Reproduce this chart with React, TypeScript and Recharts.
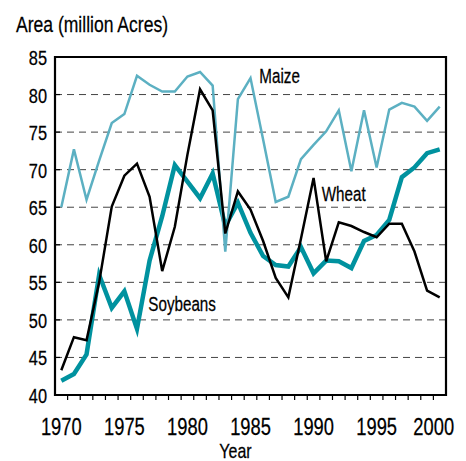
import React from 'react';
import { LineChart, Line, XAxis, YAxis, CartesianGrid, ReferenceArea, ReferenceDot } from 'recharts';

const years = [1970, 1971, 1972, 1973, 1974, 1975, 1976, 1977, 1978, 1979, 1980, 1981, 1982, 1983, 1984, 1985, 1986, 1987, 1988, 1989, 1990, 1991, 1992, 1993, 1994, 1995, 1996, 1997, 1998, 1999, 2000];
const maize = [65.0, 72.7, 66.0, 71.2, 76.2, 77.4, 82.5, 81.3, 80.4, 80.4, 82.4, 83.0, 81.2, 59.1, 79.4, 82.2, 74.0, 65.7, 66.4, 71.4, 73.3, 75.1, 77.9, 69.8, 77.9, 70.3, 78.0, 78.9, 78.4, 76.5, 78.4];
const wheat = [43.3, 47.7, 47.3, 55.0, 65.1, 69.2, 70.8, 66.4, 56.5, 62.4, 72.0, 80.7, 77.9, 61.5, 67.1, 64.7, 60.5, 55.6, 53.0, 60.8, 68.9, 57.8, 63.0, 62.5, 61.7, 61.0, 62.8, 62.8, 59.1, 53.9, 53.0];
const soybeans = [41.9, 42.8, 45.4, 56.0, 51.6, 53.8, 48.8, 57.9, 63.8, 70.6, 68.4, 66.2, 69.5, 62.5, 65.6, 61.6, 58.5, 57.3, 57.1, 59.7, 56.2, 57.9, 57.8, 56.9, 60.5, 61.3, 63.3, 69.0, 70.3, 72.2, 72.7];
const yearLabels = [1970, 1975, 1980, 1985, 1990, 1995, 2000];
const yTicks = [40, 45, 50, 55, 60, 65, 70, 75, 80, 85];
const seriesLabels = [
  { name: 'Maize', year: 1985.7, value: 81.5 },
  { name: 'Wheat', year: 1990.65, value: 65.8 },
  { name: 'Soybeans', year: 1976.9, value: 51.2 },
];

const data = years.map((year, i) => ({ year, maize: maize[i], wheat: wheat[i], soybeans: soybeans[i] }));
const minorTicks = years.slice(1).map((y) => y - 0.5);
const xTicks = [...yearLabels, ...minorTicks].sort((a, b) => a - b);

const FONT = "'Liberation Sans', Arial, sans-serif";
const SQUEEZE = 0.78;

function NarrowText({ x, y, size, anchor = 'start', children }: any) {
  return (
    <text
      transform={`translate(${x},${y}) scale(${SQUEEZE},1)`}
      x={0}
      y={0}
      textAnchor={anchor}
      fontFamily={FONT}
      fontSize={size}
      fill="#000"
      stroke="#000"
      strokeWidth={0.25}
    >
      {children}
    </text>
  );
}

function XTick(props: any) {
  const { x, y, payload } = props;
  const v = payload.value;
  if (Number.isInteger(v)) {
    return (
      <NarrowText x={v === 2000 ? x - 6 : x} y={y + 40} size={23.5} anchor="middle">
        {v}
      </NarrowText>
    );
  }
  return <line x1={x} y1={y} x2={x} y2={y + 5} stroke="#000" strokeWidth={1.2} />;
}

function YTick(props: any) {
  const { x, y, payload } = props;
  return (
    <g>
      <line x1={x} y1={y} x2={x + 5} y2={y} stroke="#000" strokeWidth={1.2} />
      <NarrowText x={x - 8} y={y + 8} size={21} anchor="end">
        {payload.value}
      </NarrowText>
    </g>
  );
}

function YearLabel(props: any) {
  const vb = props.viewBox || {};
  return (
    <NarrowText x={vb.x + vb.width / 2 - 15} y={vb.y + vb.height - 3} size={20.5} anchor="middle">
      Year
    </NarrowText>
  );
}

export default function App() {
  return (
    <div style={{ position: 'absolute', left: 0, top: 0, width: 466, height: 461, background: '#fff' }}>
      <LineChart width={466} height={461} data={data} margin={{ top: 57, right: 20, bottom: 0, left: 0 }}>
        <CartesianGrid vertical={false} stroke="#444" strokeDasharray="7 5" />
        <XAxis
          dataKey="year"
          type="number"
          domain={[1969.5, 2000.5]}
          ticks={xTicks}
          interval={0}
          allowDataOverflow
          height={66}
          tickSize={0}
          tickMargin={0}
          tickLine={false}
          axisLine={{ stroke: '#000', strokeWidth: 2 }}
          tick={<XTick />}
          label={{ content: (p: any) => <YearLabel {...p} /> }}
        />
        <YAxis
          type="number"
          domain={[40, 85]}
          ticks={yTicks}
          interval={0}
          width={55}
          tickSize={0}
          tickMargin={0}
          tickLine={false}
          axisLine={{ stroke: '#000', strokeWidth: 2 }}
          tick={<YTick />}
        />
        <ReferenceArea x1={1969.5} x2={2000.5} y1={40} y2={85} fill="none" fillOpacity={0} stroke="#000" strokeWidth={2.2} />
        <Line type="linear" dataKey="soybeans" stroke="#00929f" strokeWidth={4.5} dot={false} isAnimationActive={false} />
        <Line type="linear" dataKey="maize" stroke="#5cb0c2" strokeWidth={2.5} dot={false} isAnimationActive={false} />
        <Line type="linear" dataKey="wheat" stroke="#000" strokeWidth={2.5} dot={false} isAnimationActive={false} />
        {seriesLabels.map((l) => (
          <ReferenceDot
            key={l.name}
            x={l.year}
            y={l.value}
            r={0}
            shape={(p: any) => (
              <NarrowText x={p.cx} y={p.cy} size={19.5}>
                {l.name}
              </NarrowText>
            )}
          />
        ))}
      </LineChart>
      <svg width={466} height={50} style={{ position: 'absolute', left: 0, top: 0, pointerEvents: 'none' }}>
        <NarrowText x={16} y={32} size={22.5}>
          Area (million Acres)
        </NarrowText>
      </svg>
    </div>
  );
}
